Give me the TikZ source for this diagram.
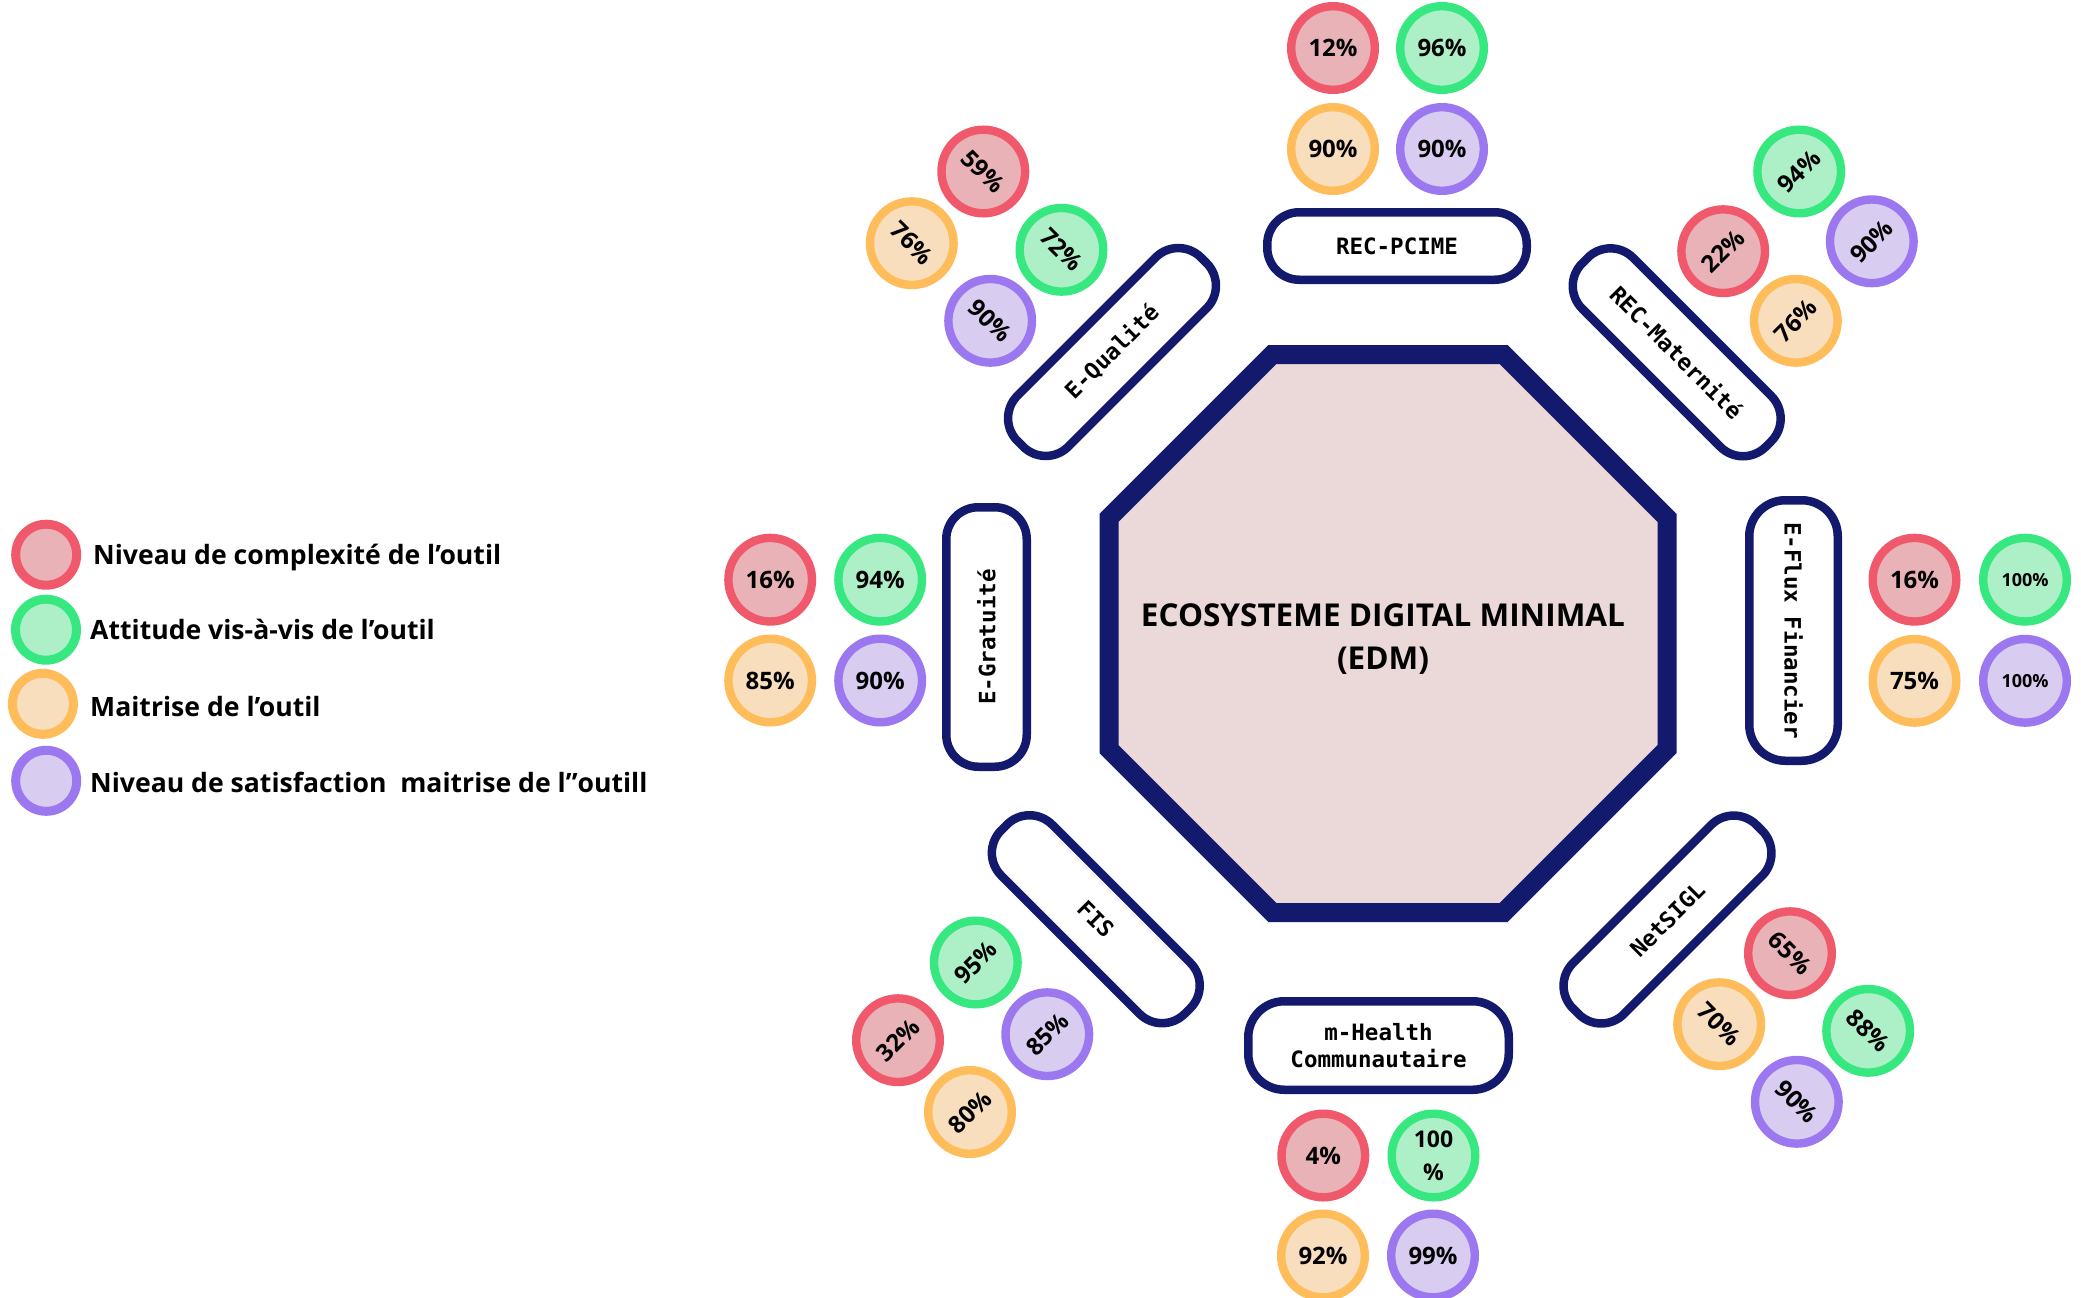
\documentclass[tikz,border=0pt]{standalone}
\usepackage{fontspec}
\setmainfont{Open Sans}
\newfontfamily\pillfont{DejaVu Sans Mono}
\usetikzlibrary{shapes.geometric}
\definecolor{navy}{RGB}{19,25,108}
\definecolor{redring}{RGB}{240,88,108}
\definecolor{redfill}{RGB}{232,178,182}
\definecolor{greenring}{RGB}{55,232,128}
\definecolor{greenfill}{RGB}{173,240,200}
\definecolor{orering}{RGB}{255,188,90}
\definecolor{orefill}{RGB}{248,222,188}
\definecolor{purring}{RGB}{156,120,240}
\definecolor{purfill}{RGB}{216,204,240}
\definecolor{octfill}{RGB}{235,216,216}
\tikzset{
  pill/.style={draw=navy, line width=8.5pt, rounded corners=32pt, fill=white,
    inner sep=0pt, minimum width=259.5pt, minimum height=72pt, align=center,
    font=\pillfont\bfseries\fontsize{22.5}{27}\selectfont},
  dot/.style={circle, line width=8.4pt, minimum size=83.6pt, inner sep=0pt,
    align=center, font=\bfseries\fontsize{24}{34}\selectfont},
  rdot/.style={dot, draw=redring, fill=redfill},
  gdot/.style={dot, draw=greenring, fill=greenfill},
  odot/.style={dot, draw=orering, fill=orefill},
  pdot/.style={dot, draw=purring, fill=purfill},
  small/.style={font=\bfseries\fontsize{18}{22}\selectfont},
  ldot/.style={circle, line width=9pt, minimum size=61pt, inner sep=0pt},
  ltext/.style={anchor=base west, inner sep=0pt, font=\bfseries\fontsize{26.6}{32}\selectfont},
}
\begin{document}
\begin{tikzpicture}[x=1pt,y=-1pt]
\useasboundingbox (0,0) rectangle (2081,1298);
% central octagon
\draw[draw=navy, fill=octfill, line width=19pt, line join=miter]
  (1667,517.9) -- (1503.6,354.5) -- (1272.4,354.5) -- (1109,517.9) --
  (1109,749.1) -- (1272.4,912.5) -- (1503.6,912.5) -- (1667,749.1) -- cycle;
\node[font=\bfseries\fontsize{31.5}{43}\selectfont, align=center] (edm) at (1383,639)
  {ECOSYSTEME DIGITAL MINIMAL\\(EDM)};
% pills
\node[pill, minimum height=67.5pt] (pcime) at (1397,246) {REC-PCIME};
\node[pill, minimum width=260.5pt, minimum height=88.5pt, rounded corners=36pt] (mhealth) at (1378.5,1045.5) {m-Health\\Communautaire};
\node[pill, minimum height=80.5pt, rotate=90] (gratuite) at (986.5,637) {E-Gratuité};
\node[pill, minimum width=260.5pt, minimum height=88.5pt, rounded corners=36pt, rotate=-90] (flux) at (1793.5,630.5) {E-Flux Financier};
\node[pill, rotate=45] (qualite) at (1112,352) {E-Qualité};
\node[pill, rotate=-45] (mat) at (1676.7,352.3) {REC-Maternité};
\node[pill, rotate=45] (netsigl) at (1667.5,919.5) {NetSIGL};
\node[pill, rotate=-45] (fis) at (1095.8,919.2) {FIS};
% E-Qualite group
\node[rdot, rotate=-45] (q1) at (983.3,171.5) {59\%};
\node[odot, rotate=-45] (q2) at (911.8,243.2) {76\%};
\node[gdot, rotate=-45] (q3) at (1061.5,249.8) {72\%};
\node[pdot, rotate=-45] (q4) at (990.2,320.8) {90\%};
% REC-PCIME group
\node[rdot] (p1) at (1333,48) {12\%};
\node[gdot] (p2) at (1442,48) {96\%};
\node[odot] (p3) at (1333,149) {90\%};
\node[pdot] (p4) at (1442,149) {90\%};
% REC-Maternite group
\node[gdot, rotate=45] (m1) at (1799.2,171.5) {94\%};
\node[rdot, rotate=45] (m2) at (1723.2,251.2) {22\%};
\node[pdot, rotate=45] (m3) at (1871.8,241.3) {90\%};
\node[odot, rotate=45] (m4) at (1795.8,320.8) {76\%};
% E-Flux group
\node[rdot] (f1) at (1914.5,579.7) {16\%};
\node[gdot, small] (f2) at (2025,579.7) {100\%};
\node[odot] (f3) at (1914.5,680.8) {75\%};
\node[pdot, small] (f4) at (2025,680.8) {100\%};
% NetSIGL group
\node[rdot, rotate=-45] (n1) at (1790,953.2) {65\%};
\node[odot, rotate=-45] (n2) at (1719.2,1024.2) {70\%};
\node[gdot, rotate=-45] (n3) at (1868.2,1030.8) {88\%};
\node[pdot, rotate=-45] (n4) at (1796.8,1101.8) {90\%};
% m-Health group
\node[rdot] (h1) at (1323.3,1155.5) {4\%};
\node[gdot, font=\bfseries\fontsize{23}{33}\selectfont] (h2) at (1433.5,1155.5) {100\\\%};
\node[odot] (h3) at (1323,1255.5) {92\%};
\node[pdot] (h4) at (1433,1255.5) {99\%};
% FIS group
\node[gdot, rotate=45] (s1) at (975.8,962.5) {95\%};
\node[rdot, rotate=45] (s2) at (898,1040.2) {32\%};
\node[pdot, rotate=45] (s3) at (1047.3,1034.2) {85\%};
\node[odot, rotate=45] (s4) at (970,1112) {80\%};
% E-Gratuite group
\node[rdot] (g1) at (770.2,579.7) {16\%};
\node[gdot] (g2) at (880.2,579.7) {94\%};
\node[odot] (g3) at (770.2,680.5) {85\%};
\node[pdot] (g4) at (880.2,680.5) {90\%};
% legend
\node[ldot, draw=redring, fill=redfill] (l1) at (46.2,554.7) {};
\node[ldot, draw=greenring, fill=greenfill] (l2) at (46,629.7) {};
\node[ldot, draw=orering, fill=orefill] (l3) at (42.9,703.8) {};
\node[ldot, draw=purring, fill=purfill] (l4) at (46.2,780.8) {};
\node[ltext] (t1) at (93,564.3) {Niveau de complexité de l’outil};
\node[ltext] (t2) at (90,639.3) {Attitude vis-à-vis de l’outil};
\node[ltext] (t3) at (90,716.7) {Maitrise de l’outil};
\node[ltext] (t4) at (90,792.7) {Niveau de satisfaction~~maitrise de l”outill};
\end{tikzpicture}
\end{document}
